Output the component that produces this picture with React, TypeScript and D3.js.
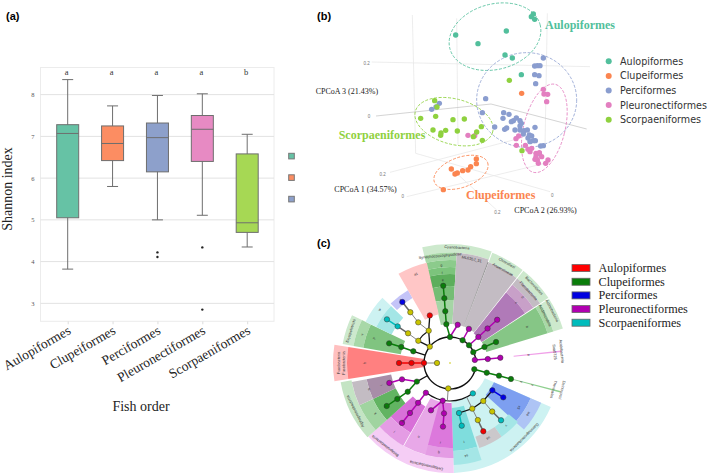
import * as React from 'react';
import * as d3 from 'd3';

const serif = '"Liberation Serif", serif';
const sans = '"Liberation Sans", sans-serif';

// (a) boxplot
const orders = ['Aulopiformes', 'Clupeiformes', 'Perciformes', 'Pleuronectiformes', 'Scorpaeniformes'];
const orderColors = ['#66c2a5', '#fc8d62', '#8da0cb', '#e78ac3', '#a6d854'];
const whiskerLow = [3.82, 5.8, 5.0, 5.11, 4.35];
const quartile1 = [5.05, 6.42, 6.15, 6.4, 4.7];
const medians = [7.07, 6.83, 6.97, 7.17, 4.93];
const quartile3 = [7.28, 7.25, 7.32, 7.5, 6.58];
const whiskerHigh = [8.36, 7.73, 7.98, 8.02, 7.05];
const outliers = [[], [], [4.22, 4.11], [4.34, 2.85], []];
const groupLetters = ['a', 'a', 'a', 'a', 'b'];
const shannonTicks = [3, 4, 5, 6, 7, 8];

// (b) PCoA, positions on the projected plane of the 3D plot
const aulopiPts = [[700, 42], [694, 50], [704, 58], [467, 105], [619, 93], [534, 131], [615, 165], [637, 174], [664, 224]];
const clupeiPts = [[665, 280], [529, 477], [529, 491], [512, 500], [504, 510], [488, 512], [472, 519], [465, 522], [454, 507], [430, 569]];
const perciPts = [[730, 174], [704, 198], [712, 197], [720, 197], [704, 224], [717, 227], [707, 251], [557, 296], [418, 310], [408, 321], [395, 328], [547, 338], [611, 338], [627, 343], [609, 355], [640, 362], [649, 354], [634, 365], [660, 362], [664, 370], [660, 378], [584, 381], [614, 388], [620, 384], [705, 382], [645, 390], [660, 390], [672, 392], [682, 390], [670, 402], [688, 405], [684, 414], [695, 408], [700, 422], [690, 425], [706, 422], [722, 438], [730, 437], [718, 460]];
const pleuroPts = [[730, 268], [732, 282], [743, 283], [740, 305], [504, 406], [524, 407], [656, 408], [648, 416], [649, 436], [676, 436], [684, 448], [695, 445], [690, 455], [708, 460], [718, 458], [708, 470], [725, 470], [712, 480], [705, 478], [715, 490], [744, 480], [737, 490]];
const scorpPts = [[628, 241], [404, 302], [411, 321], [362, 355], [407, 349], [459, 359], [493, 357], [399, 390], [437, 391], [423, 399], [422, 406], [472, 393], [544, 380], [530, 396], [520, 410], [547, 421], [666, 452]];
const pcoaGroups = [aulopiPts, clupeiPts, perciPts, pleuroPts, scorpPts];
const pcoaColors = ['#52bf9c', '#fb8550', '#8a9dcf', '#e37fc0', '#8fd13f'];
// cx, cy, rx, ry, tilt
const pcoaEllipses = [[585, 110, 140, 98, -15], [483, 517, 85, 45, -20], [680, 300, 150, 142, 0], [733, 385, 62, 136, 14], [462, 365, 120, 68, 15]];
const pcoaAxes = [
  [[337, 45], [347, 460]], [[470, 55], [474, 435]], [[742, 40], [735, 440]], [[228, 348], [573, 312]], [[573, 312], [860, 387]],
  [[215, 186], [870, 200]], [[347, 460], [750, 575]], [[270, 517], [640, 420]], [[320, 590], [735, 490]], [[470, 520], [590, 630]],
];
const pcoaTickLabels: [string, number, number][] = [['0.2', 200, 191], ['0', 207, 351], ['0.2', 248, 524], ['0', 308, 591], ['0', 757, 588], ['0.2', 592, 638]];
const pcoaAxisLabels: [string, number, number][] = [['CPCoA 3 (21.43%)', 47, 274], ['CPCoA 1 (34.57%)', 103, 569], ['CPCoA 2 (26.93%)', 643, 632]];
const clusterLabels: [string, number, number, number][] = [['Aulopiformes', 735, 76, 0], ['Clupeiformes', 498, 585, 1], ['Scorpaeniformes', 116, 404, 4]];

// (c) cladogram, angles clockwise from north
const cladeColors: Record<string, string> = { g: '#0a7d0a', m: '#b000b0', y: '#c9c400', r: '#f00000', b: '#0000e6', c: '#00bcbc' };
// id, parent, angle, depth, clade
const cladoNodes: [string, string, number, number, string][] = [
  ['n1', '', 270, 13, 'y'],
  ['top', '', 0, 26, 'g'], ['t1', 'top', 354.6, 39, 'g'], ['t2', 't1', 354.8, 52, 'g'], ['t3', 't2', 355, 65, 'g'], ['t4', 't3', 355, 77.5, 'g'], ['t5', 'top', 11.4, 39, 'm'],
  ['s1', '', 29, 26, 'g'], ['s2', 's1', 29, 39, 'm'],
  ['f1', '', 47, 26, 'g'], ['f2', 'f1', 47.4, 38.5, 'm'], ['f3', 'f2', 47.4, 51, 'm'], ['f4', 'f3', 47.5, 64, 'm'],
  ['a1', '', 65, 25.7, 'g'], ['a2', 'a1', 65, 38, 'g'], ['a3', 'a2', 65.5, 50.6, 'g'],
  ['v1', '', 83, 25, 'm'], ['v2', 'v1', 84, 38, 'm'], ['v3', 'v2', 84, 50.6, 'm'],
  ['d1', '', 104.5, 25.1, 'g'], ['d2', 'd1', 104.8, 38, 'g'], ['d3', 'd2', 104.5, 50.6, 'g'], ['d4', 'd3', 104.7, 63, 'g'],
  ['p0', '', 184, 25.5, 'y'],
  ['c1', '=', 143, 38, 'c'], ['y2', '', 154, 50.8, 'y'], ['y1', 'y2', 138.8, 50.5, 'y'], ['c2', 'y2', 169.8, 50.8, 'c'], ['c3', 'c2', 169.4, 63.8, 'c'],
  ['b1', 'y1', 122.8, 50.4, 'b'], ['b2', 'b1', 122.8, 63.4, 'b'], ['y3', 'y1', 139, 64.3, 'y'], ['c4', 'y3', 138.3, 76.7, 'c'],
  ['y4', 'y2', 154, 63.5, 'y'], ['r1', 'y4', 154, 76, 'r'],
  ['m1', '=', 191, 38.4, 'm'], ['m2', 'm1', 201.9, 51, 'm'], ['m3', 'm1', 186.8, 50.7, 'm'], ['m4', 'm3', 186.3, 64, 'm'],
  ['h1', '=', 219, 38.3, 'm'], ['h2', 'h1', 218.7, 51, 'm'], ['h3', 'h2', 218.7, 64, 'm'], ['h4', 'h3', 218.7, 76.8, 'm'],
  ['g1', '', 240.7, 38, 'g'], ['g2', 'g1', 235.8, 51.1, 'g'], ['g3', 'g2', 235.7, 63.8, 'g'], ['g4', 'g3', 235.8, 76.5, 'g'], ['k1', 'g1', 251.2, 50.7, 'm'], ['k2', 'k1', 251.8, 63.9, 'm'],
  ['f5', '', 270, 26, 'r'], ['f6', 'f5', 270, 38.5, 'r'], ['f7', 'f6', 270, 51, 'r'],
  ['e1', '', 287.7, 38.5, 'g'], ['e2', 'e1', 288.2, 51.3, 'g'], ['e3', 'e2', 287.9, 64, 'g'],
  ['u1', '', 309, 26, 'y'], ['u2', 'u1', 305, 38.7, 'y'], ['u3', 'u1', 326.6, 38.7, 'y'], ['u4', 'u3', 337, 51.7, 'r'], ['u5', 'u3', 322, 51.6, 'y'], ['u6', 'u5', 322, 64.4, 'y'], ['u7', 'u6', 322, 77.4, 'b'],
  ['u8', 'u2', 305.3, 51.4, 'y'], ['u9', 'u8', 305, 63.9, 'c'], ['u10', 'u9', 304.7, 76.7, 'c'],
];
const blackEdges = ['u2', 'u3', 'u4', 'y1', 'c2', 'b1', 'g1', 'e1'];
// stem from the ring out to the arc at depth 38
const cladoStems = [[184, 26, 38]];
// start angle, end angle, inner depth, outer depth, colour
const cladoSectors: [number, number, number, number, string][] = [
  [-13.5, 20.5, 110.5, 119, '#cde9cd'], [-13.5, 3.5, 103, 110.5, '#a8d8a8'], [-13.5, 3.5, 96, 103, '#8ccb8c'], [-13.5, 3.5, 89, 96, '#7cc47c'],
  [-13.5, 3.5, 77, 89, '#5cae5c'], [-13.5, 3.5, 63, 77, '#74bd74'], [-13.5, 3.5, 39, 63, '#a5d5a5'],
  [3.5, 20.5, 39, 110.5, '#c3bcc3'], [21, 38, 108, 118, '#cde9cd'], [21, 38, 39, 108, '#c3bcc3'], [20.4, 20.9, 39, 108, '#8a8a8a'],
  [38.5, 56.5, 108, 118, '#cde9cd'], [38.5, 56.5, 100, 108, '#c3bcc3'], [38.5, 56.5, 90, 100, '#c8a0c8'], [38.5, 56.5, 38, 90, '#b07ab8'],
  [57, 73, 108, 118, '#cde9cd'], [57, 73, 102, 108, '#a8d8a8'], [57, 73, 38, 102, '#86c686'],
  [83.6, 84.4, 64, 112, '#f0a0e8'], [104.2, 105, 63, 114, '#90d090'],
  [113.6, 178, 38, 110, '#cdf2f2'], [113.6, 132, 48, 88, '#7d9ff0'], [113.6, 132, 88, 99.5, '#aec4f5'],
  [131, 145, 78, 90, '#a4e6e6'], [145, 161, 78, 90, '#cbc8cb'], [162, 178, 45, 88, '#7fdddd'], [162, 178, 88, 102, '#a4e6e6'],
  [178, 228, 95, 110, '#f5cdf5'], [178, 209, 40, 95, '#e8a8e8'], [178, 195, 40, 85, '#dc78dc'], [178, 195, 85, 95, '#e49ce4'], [209.5, 228, 50, 80, '#d870d8'], [209.5, 228, 80, 95, '#e49ce4'],
  [228, 260, 100, 111, '#c4e4c4'], [228, 245, 60, 85, '#62b462'], [228, 245, 85, 100, '#a0d4a0'], [245, 259, 60, 85, '#a88da8'], [245, 259, 85, 100, '#c3bcc3'],
  [261, 279, 103, 117, '#ffc0c0'], [261, 279, 26, 103, '#ff8080'],
  [280, 296, 98, 109, '#cde9cd'], [280, 296, 88, 98, '#a8d8a8'], [280, 296, 50, 88, '#80c480'],
  [296, 314, 82, 94, '#cdf2f2'], [296, 314, 65, 82, '#a4e6e6'],
  [315, 330, 75, 84, '#c4c4f8'], [330, 347, 50, 103, '#ffc6c6'],
];
const cladoTaxa: [string, number, number][] = [
  ['Cyanobacteria', 3.4, 115.5], ['Synechococcophycideae', 354.7, 107.5], ['ML635J_21', 11.8, 106], ['Chloroflexi', 29.6, 114.7], ['Anaerolineae', 29.5, 107],
  ['Bacteroidetes', 47.4, 114], ['Flavobacteriia', 47.4, 106.4], ['Actinobacteria', 62.8, 114.5], ['Acidimicrobiia', 63.4, 106], ['Acidobacteria', 84, 112], ['Sva0725', 84, 105],
  ['Deinococci', 103.6, 115], ['Thermales', 104.3, 106.6], ['Gammaproteobacteria', 135, 105], ['Deltaproteobacteria', 193, 105], ['Betaproteobacteria', 218, 105],
  ['Alphaproteobacteria', 243, 106], ['Fusobacteria', 270, 111], ['Fusobacteriia', 270, 106], ['Erysipelotrichi', 288, 104],
];
const cladoLetters: [string, number, number][] = [
  ['g', 355, 98], ['f', 355, 90], ['e', 355, 83], ['d', 47.7, 97.7], ['c', 47.7, 89.4], ['b', 65, 85], ['a', 84, 79], ['z', 105, 85], ['y', 105, 74],
  ['x5', 123, 82], ['w4', 123, 93], ['v', 138, 84], ['u4', 153, 84], ['t', 170, 80], ['s4', 170, 94], ['r', 187, 80], ['q', 187, 90], ['n', 203, 80], ['m', 219, 75], ['l', 219, 88],
  ['k', 236, 90], ['j', 236, 78], ['o', 252, 85], ['i', 252, 72], ['h', 270, 85], ['p', 288, 80], ['v', 288, 92], ['w', 307, 88], ['x', 322, 80], ['a1', 339, 95],
];
const ringArcs = [[104, 443]];
const innerArcs: [number, number, number][] = [[143, 219, 38], [305, 327, 38.7]];
const cladoLegend = orders;
const cladoLegendColors = ['#ff0000', '#0a7d0a', '#0000e0', '#b000b0', '#00bcbc'];

// scales
const shannonY = d3.scaleLinear().domain([2.57, 8.65]).range([321.3, 67.5]);
const orderX = d3.scalePoint<string>().domain(orders).range([67.7, 247.2]);
const pcoaX = d3.scaleLinear().domain([0, 1227]).range([300, 709]);
const pcoaY = d3.scaleLinear().domain([0, 720]).range([0, 240]);
const depth = d3.scaleLinear().domain([0, 120]).range([0, 120]);
const cx = 450;
const cy = 363;
const rad = (a: number) => (a * Math.PI) / 180;
const polar = (a: number, d: number) => {
  const [x, y] = d3.pointRadial(rad(a), depth(d));
  return [cx + x, cy + y];
};
const arcGen = d3.arc();
const boxW = 22;
const capW = 11;

const App = () => {
  const axisRef = React.useRef<SVGGElement>(null);

  React.useEffect(() => {
    const g = d3.select(axisRef.current);
    g.selectAll('*').remove();
    const yAxis = d3.axisLeft(shannonY).tickValues(shannonTicks).tickSize(0).tickPadding(6).tickFormat(d3.format('d') as any);
    const xAxis = d3.axisBottom(orderX).tickSize(3).tickFormat(() => '');
    const ga = g.append('g').attr('transform', 'translate(40.5,0)').call(yAxis);
    ga.select('.domain').remove();
    ga.selectAll('text').attr('font-family', serif).attr('font-size', 6.5).attr('fill', '#555');
    const gb = g.append('g').attr('transform', 'translate(0,321.3)').call(xAxis);
    gb.select('.domain').remove();
    gb.selectAll('line').attr('stroke', '#ddd');
  }, []);

  const byId = new Map(cladoNodes.map((n) => [n[0], n]));

  return (
    <svg width={709} height={474} style={{ position: 'absolute', left: 0, top: 0 }}>
      <rect width={709} height={474} fill="#fff" />
      <text x={6} y={20} fontFamily={sans} fontWeight="bold" fontSize={11}>(a)</text>
      <text x={317} y={20} fontFamily={sans} fontWeight="bold" fontSize={11}>(b)</text>
      <text x={317} y={247} fontFamily={sans} fontWeight="bold" fontSize={11}>(c)</text>

      {/* a */}
      <rect x={40.5} y={67.5} width={233.5} height={253.8} fill="none" stroke="#ececec" />
      {shannonTicks.map((t) => (
        <line key={t} x1={40.5} x2={274} y1={shannonY(t)} y2={shannonY(t)} stroke="#e2e2e2" strokeWidth={1} />
      ))}
      <g ref={axisRef} />
      {orders.map((o, i) => {
        const x = orderX(o) as number;
        return (
          <g key={o}>
            <line x1={x} x2={x} y1={shannonY(whiskerLow[i])} y2={shannonY(whiskerHigh[i])} stroke="#6e6e6e" />
            <line x1={x - capW / 2} x2={x + capW / 2} y1={shannonY(whiskerLow[i])} y2={shannonY(whiskerLow[i])} stroke="#6e6e6e" />
            <line x1={x - capW / 2} x2={x + capW / 2} y1={shannonY(whiskerHigh[i])} y2={shannonY(whiskerHigh[i])} stroke="#6e6e6e" />
            <rect x={x - boxW / 2} width={boxW} y={shannonY(quartile3[i])} height={shannonY(quartile1[i]) - shannonY(quartile3[i])} fill={orderColors[i]} stroke="#6e6e6e" />
            <line x1={x - boxW / 2} x2={x + boxW / 2} y1={shannonY(medians[i])} y2={shannonY(medians[i])} stroke="#6e6e6e" />
            {outliers[i].map((v) => (
              <circle key={v} cx={x} cy={shannonY(v)} r={1.2} fill="#222" />
            ))}
            <text x={x - 1} y={75} textAnchor="middle" fontFamily={serif} fontSize={8.5} fill="#333">{groupLetters[i]}</text>
            <text transform={`translate(${x + 4},${333}) rotate(-30)`} textAnchor="end" fontFamily={serif} fontSize={13.5} fill="#222">{o}</text>
          </g>
        );
      })}
      {orderColors.slice(0, 3).map((c, i) => (
        <rect key={c} x={288.7} y={153.3 + i * 21.5} width={5.6} height={5.6} fill={c} stroke="#777" />
      ))}
      <text transform="translate(12,189) rotate(-90)" textAnchor="middle" fontFamily={serif} fontSize={14} fill="#222">Shannon index</text>
      <text x={141} y={411} textAnchor="middle" fontFamily={serif} fontSize={14} fill="#222">Fish order</text>

      {/* b */}
      {pcoaAxes.map((l, i) => (
        <line key={i} x1={pcoaX(l[0][0])} y1={pcoaY(l[0][1])} x2={pcoaX(l[1][0])} y2={pcoaY(l[1][1])} stroke={i === 3 || i === 4 ? '#c9c9c9' : '#e8e8e8'} strokeWidth={0.8} />
      ))}
      {pcoaTickLabels.map(([t, x, y], i) => (
        <text key={i} x={pcoaX(x)} y={pcoaY(y)} textAnchor="middle" dominantBaseline="middle" fontFamily={sans} fontSize={4.5} fill="#777">{t}</text>
      ))}
      {pcoaAxisLabels.map(([t, x, y]) => (
        <text key={t} x={pcoaX(x)} y={pcoaY(y) + 2.5} fontFamily={serif} fontSize={8} fill="#222">{t}</text>
      ))}
      {pcoaEllipses.map((e, i) => (
        <ellipse key={i} transform={`translate(${pcoaX(e[0])},${pcoaY(e[1])}) rotate(${e[4]})`} rx={e[2] / 3} ry={e[3] / 3} fill="none" stroke={pcoaColors[i]} strokeWidth={0.8} strokeDasharray="3 1.6" />
      ))}
      {pcoaGroups.map((pts, i) =>
        pts.map((p, j) => <circle key={`${i}-${j}`} cx={pcoaX(p[0])} cy={pcoaY(p[1])} r={2.7} fill={pcoaColors[i]} />)
      )}
      {clusterLabels.map(([t, x, y, c]) => (
        <text key={t} x={pcoaX(x)} y={pcoaY(y) + 4} fontFamily={serif} fontWeight="bold" fontSize={12} fill={pcoaColors[c]}>{t}</text>
      ))}
      {orders.map((o, i) => (
        <g key={o}>
          <circle cx={608.7} cy={61.3 + i * 14.6} r={3} fill={pcoaColors[i]} />
          <text x={620} y={61.3 + i * 14.6 + 3.4} fontFamily='"DejaVu Sans", sans-serif' fontSize={9.6} fill="#333">{o}</text>
        </g>
      ))}

      {/* c */}
      <g transform={`translate(${cx},${cy})`}>
        {cladoSectors.map((s, i) => (
          <path key={i} d={arcGen({ startAngle: rad(s[0]), endAngle: rad(s[1]), innerRadius: depth(s[2]), outerRadius: depth(s[3]) }) as string} fill={s[4]} />
        ))}
      </g>
      {ringArcs.map((a, i) => (
        <path key={i} transform={`translate(${cx},${cy})`} d={arcGen({ startAngle: rad(a[0]), endAngle: rad(a[1]), innerRadius: depth(26) - 0.7, outerRadius: depth(26) + 0.7 }) as string} fill="#111" />
      ))}
      {innerArcs.map((a, i) => (
        <path key={i} transform={`translate(${cx},${cy})`} d={arcGen({ startAngle: rad(a[0]), endAngle: rad(a[1]), innerRadius: depth(a[2]) - 0.6, outerRadius: depth(a[2]) + 0.6 }) as string} fill="#111" />
      ))}
      {cladoStems.map((s, i) => {
        const [x1, y1] = polar(s[0], s[1]);
        const [x2, y2] = polar(s[0], s[2]);
        return <line key={i} x1={x1} y1={y1} x2={x2} y2={y2} stroke="#777" strokeWidth={0.9} />;
      })}
      {cladoNodes.filter((n) => n[1] !== '=').map((n) => {
        const p = n[1] ? byId.get(n[1]) : undefined;
        const [x2, y2] = polar(n[2], n[3]);
        const startDepth = n[0] === 'y2' ? 38 : n[3] === 13 ? 26 : Math.min(n[3], 26);
        const [x1, y1] = p ? polar(p[2], p[3]) : polar(n[2], startDepth);
        const black = blackEdges.includes(n[0]);
        const stroke = black ? '#111' : n[4] === 'y' || !p ? '#777' : p[4] === 'y' ? '#666' : cladeColors[n[4]];
        return <line key={n[0]} x1={x1} y1={y1} x2={x2} y2={y2} stroke={stroke} strokeWidth={black ? 1.3 : n[4] === 'y' ? 0.9 : 1.5} />;
      })}
      <circle cx={cx} cy={cy} r={0.8} fill={cladeColors.y} />
      {cladoNodes.map((n) => {
        const [x, y] = polar(n[2], n[3]);
        return <circle key={n[0]} cx={x} cy={y} r={2.7} fill={cladeColors[n[4]]} stroke="#333" strokeWidth={0.5} />;
      })}
      {cladoTaxa.map(([t, a, d]) => {
        const [x, y] = polar(a, d);
        return (
          <text key={t} transform={`translate(${x},${y}) rotate(${a})`} textAnchor="middle" dominantBaseline="middle" fontFamily={sans} fontSize={3.9} fill="#333">{t}</text>
        );
      })}
      {cladoLetters.map(([t, a, d], i) => {
        const [x, y] = polar(a, d);
        return (
          <text key={i} transform={`translate(${x},${y}) rotate(${a})`} textAnchor="middle" dominantBaseline="middle" fontFamily={sans} fontSize={3.5} fill="#333">{t}</text>
        );
      })}
      {cladoLegend.map((o, i) => (
        <g key={o}>
          <rect x={572} y={264.6 + i * 13.65} width={18} height={7} fill={cladoLegendColors[i]} stroke="#666" strokeWidth={0.8} />
          <text x={598.5} y={272 + i * 13.65} fontFamily={serif} fontSize={12.2} fill="#222">{o}</text>
        </g>
      ))}
    </svg>
  );
};

export default App;
